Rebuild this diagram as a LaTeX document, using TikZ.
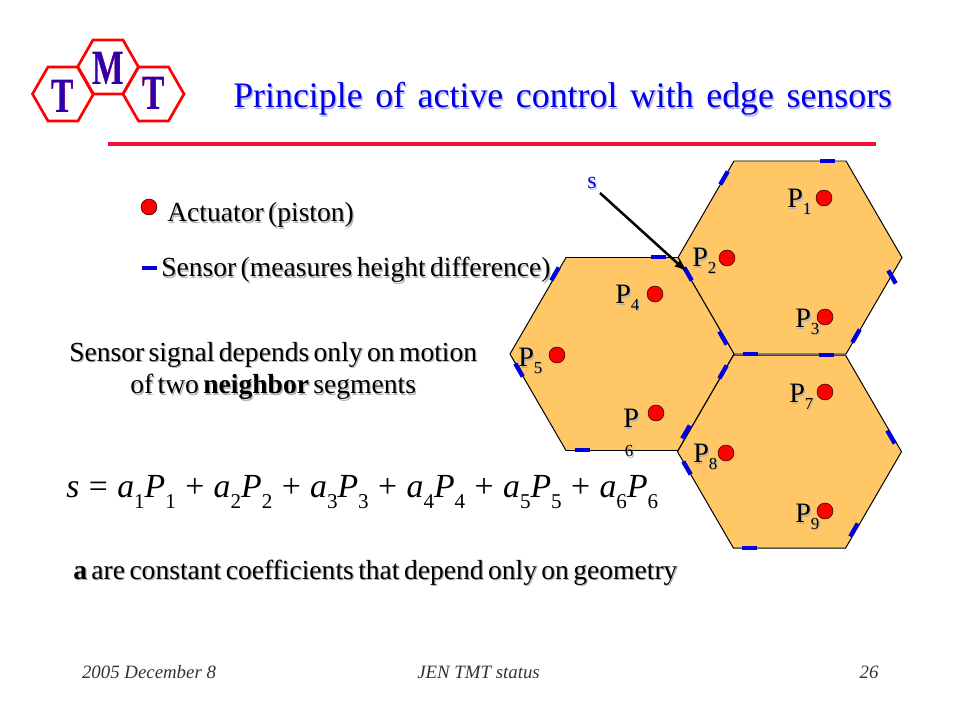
\documentclass[tikz,border=0pt]{standalone}
\usepackage{fontspec}
\setmainfont{Liberation Serif}
\definecolor{segfill}{HTML}{FFC766}
\definecolor{sensorblue}{HTML}{0000E0}
\definecolor{titleblue}{HTML}{0000E6}
\definecolor{barred}{HTML}{EE1133}
\definecolor{logoink}{HTML}{3000B0}
\definecolor{footgray}{HTML}{333333}
\newcommand{\shadowed}[2][black!30]{\leavevmode\rlap{\kern.9pt\raisebox{-.9pt}{\color{#1}#2}}#2}
\newcommand{\Psub}[1]{P\raisebox{-.22em}{\fontsize{12}{12}\selectfont #1}}
\newcommand{\coef}[1]{\textit{a}\raisebox{-.3em}{\fontsize{15}{15}\selectfont #1}\textit{P}\raisebox{-.3em}{\fontsize{15}{15}\selectfont #1}}
\tikzset{
  segment/.style={draw=black, line width=.7pt, fill=segfill},
  logohex/.style={draw=red, line width=1.9pt},
  logoletter/.style={font=\fontsize{35}{35}\selectfont\bfseries, xscale=.68, inner sep=0pt, text=logoink},
  sensorbar/.style={draw=sensorblue, line width=3.1pt},
  actuator/.style={circle, draw=black, line width=.3pt, fill=red, minimum size=.4cm, inner sep=0pt},
  plabel/.style={anchor=base west, inner sep=0pt, font=\fontsize{20}{20}\selectfont},
  bodytext/.style={anchor=base west, inner sep=0pt, font=\fontsize{19.6}{19.6}\selectfont, execute at begin node={\spaceskip=.16em\relax}},
  foot/.style={anchor=base, inner sep=0pt, text=footgray, font=\fontsize{13.4}{13.4}\selectfont\itshape}
}
\begin{document}
\begin{tikzpicture}[x=0.025cm, y=-0.025cm]
	\useasboundingbox (0,0) rectangle (960,720);

	%logo
	\foreach \cx/\cy in {63/94, 108/67, 153.5/94}
		\draw[logohex, shift={(\cx,\cy)}] (-30.5,0) -- (-15,-27) -- (15,-27) -- (30.5,0) -- (15,27) -- (-15,27) -- cycle;
	\node[logoletter, text=red] (logo t1 edge) at (63,96.5) {T};
	\node[logoletter] (logo t1) at (62.4,96) {T};
	\node[logoletter, text=red] (logo m edge) at (108.6,68.5) {M};
	\node[logoletter] (logo m) at (108,68) {M};
	\node[logoletter, text=red] (logo t2 edge) at (154,93.5) {T};
	\node[logoletter] (logo t2) at (153.4,93) {T};

	%title
	\node[anchor=base west, inner sep=0pt, text=titleblue, font=\fontsize{25.5}{25.5}\selectfont, execute at begin node={\spaceskip=.35em\relax}] (title) at (233,108)
		{\shadowed[titleblue!30]{Principle of active control with edge sensors}};
	\draw[draw=barred, line width=2.8pt] (108,144) -- (876,144);

	%segments
	\foreach \cx/\cy in {790/257.5, 622/354, 789.5/451.7}
		\draw[segment, shift={(\cx,\cy)}] (-112,0) -- (-56,-96.5) -- (56,-96.5) -- (112,0) -- (56,96.5) -- (-56,96.5) -- cycle;

	%sensors
	\foreach \x/\y/\ang in {827/161/0, 750/354/0, 826/355/0, 658/257/0, 582/450/0, 749/548/0, 149/268/0,
		724/178/-60, 856/336/-60, 555/274/-60, 686/432/-60, 723/372/-60, 854/530/-60,
		892/277/60, 688/274/60, 723/338/60, 519/370/60, 891/437/60, 687/468/60}
		\draw[sensorbar] (\x,\y) ++(\ang:7.5) -- ++(\ang+180:15);

	%actuators
	\foreach \n/\x/\y in {1/824/198, 2/727/258, 3/825/317, 4/655/294, 5/557/355, 6/656/413, 7/825/392, 8/726/453, 9/825/511}
		\node[actuator] (act\n) at (\x,\y) {};
	\node[actuator] (act legend) at (149,207) {};

	%labels
	\foreach \n/\x/\y in {1/787/208, 2/692/267, 3/795/328, 4/615/304, 5/518/367, 7/789/403, 8/693/463, 9/795/523}
		\node[plabel] (label p\n) at (\x,\y) {\shadowed{\Psub{\n}}};
	\node[plabel] (label p6) at (623,428) {\shadowed{P}};
	\node[inner sep=0pt, font=\fontsize{12}{12}\selectfont] (label p6 sub) at (629,452) {\shadowed{6}};

	%sensor arrow
	\node[inner sep=0pt, text=titleblue, font=\fontsize{17}{17}\selectfont] (s label) at (592,184) {\shadowed[titleblue!25]{s}};
	\coordinate (s tail) at (600,193);
	\coordinate (s tip) at (686,271);
	\draw[-latex, line width=1.8pt] (s tail) -- (s tip);

	%text
	\node[bodytext] (actuator text) at (167,222) {\shadowed{Actuator (piston)}};
	\node[bodytext] (sensor text) at (161,277) {\shadowed{Sensor (measures height difference)}};
	\node[bodytext] (signal one) at (69,361.5) {\shadowed{Sensor signal depends only on motion}};
	\node[bodytext] (signal two) at (130,394) {\shadowed{of two \textbf{neighbor} segments}};
	\node[anchor=base west, inner sep=0pt, font=\fontsize{24}{24}\selectfont, execute at begin node={\spaceskip=6.7pt\relax}] (equation) at (66,498)
		{\textit{s} = \coef{1} + \coef{2} + \coef{3} + \coef{4} + \coef{5} + \coef{6}};
	\node[bodytext] (coef text) at (73,579) {\shadowed{\textbf{a} are constant coefficients that depend only on geometry}};

	%footer
	\node[foot] (foot date) at (149,678) {2005 December 8};
	\node[foot] (foot name) at (478.5,678) {JEN TMT status};
	\node[foot] (foot page) at (869,678) {26};
\end{tikzpicture}
\end{document}
